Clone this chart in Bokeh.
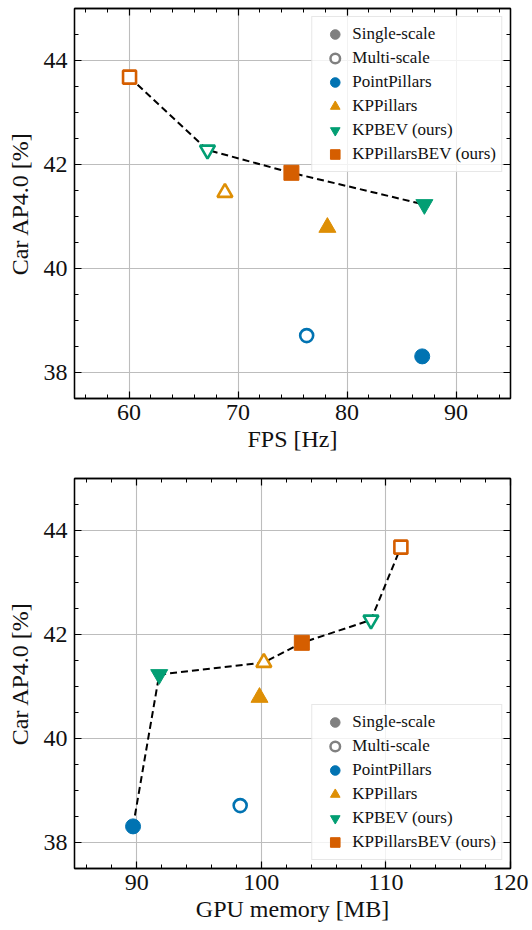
from bokeh.plotting import figure
from bokeh.models import (Range1d, LinearAxis, SingleIntervalTicker, CustomJSTickFormatter,
                          Legend, LegendItem)
from bokeh.layouts import column
from bokeh.embed import file_html
from bokeh.resources import INLINE

# ---------------- data ----------------
methods = ["PointPillars", "KPPillars", "KPBEV (ours)", "KPPillarsBEV (ours)"]
colors = ["#0173B2", "#DE8F05", "#029E73", "#D55E00"]
markers = ["circle", "triangle", "inverted_triangle", "square"]

ap_single = [38.31, 40.79, 41.23, 41.84]
ap_multi = [38.71, 41.46, 42.28, 43.68]
fps_single = [86.9, 78.2, 87.1, 74.9]
fps_multi = [76.3, 68.8, 67.2, 60.05]
mem_single = [89.7, 99.85, 91.8, 103.25]
mem_multi = [98.3, 100.2, 108.8, 111.2]

# Pareto fronts: (method index, scale)
front_fps = [(3, "multi"), (2, "multi"), (3, "single"), (2, "single")]
front_mem = [(0, "single"), (2, "single"), (1, "multi"), (3, "single"), (2, "multi"), (3, "multi")]

FONT = "Liberation Serif"
SIZES = {"circle": (15, 13), "triangle": (17, 15), "inverted_triangle": (17, 15), "square": (15, 13)}


def style_axis(ax, ticker, show_labels=True, is_x=True):
    ax.ticker = ticker
    ax.major_tick_in = 7
    ax.major_tick_out = 0
    ax.minor_tick_in = 4
    ax.minor_tick_out = 0
    ax.axis_line_color = "black"
    ax.axis_line_width = 1.3
    ax.major_tick_line_color = "black"
    ax.minor_tick_line_color = "black"
    ax.major_tick_line_width = 1.2
    ax.minor_tick_line_width = 1.0
    if show_labels:
        ax.major_label_text_font = FONT
        ax.major_label_text_font_size = "24px"
        ax.major_label_text_color = "#111111"
        ax.major_label_standoff = 6 if is_x else 7
        ax.axis_label_text_font = FONT
        ax.axis_label_text_font_size = "24px"
        ax.axis_label_text_font_style = "normal"
        ax.axis_label_text_color = "#111111"
        ax.axis_label_standoff = 3 if is_x else 8
    else:
        ax.formatter = CustomJSTickFormatter(code="return ''")
        ax.major_label_text_font_size = "0px"
        ax.major_label_standoff = 0


def make_fig(xs_single, xs_multi, xlo, xhi, xlabel, front, loc, height, top, bottom):
    p = figure(width=532, height=height, output_backend="svg", toolbar_location=None,
               x_range=Range1d(xlo, xhi), y_range=Range1d(37.5, 45),
               min_border_left=74, min_border_right=22, min_border_top=top,
               min_border_bottom=bottom)
    p.outline_line_color = "black"
    p.outline_line_width = 1.3
    xt = SingleIntervalTicker(interval=10, num_minor_ticks=5)
    yt = SingleIntervalTicker(interval=2, num_minor_ticks=4)
    style_axis(p.xaxis[0], xt, True, True)
    style_axis(p.yaxis[0], yt, True, False)
    p.xaxis[0].axis_label = xlabel
    p.yaxis[0].axis_label = "Car AP4.0 [%]"
    ax_top = LinearAxis()
    style_axis(ax_top, SingleIntervalTicker(interval=10, num_minor_ticks=5), False)
    p.add_layout(ax_top, "above")
    ax_right = LinearAxis()
    style_axis(ax_right, SingleIntervalTicker(interval=2, num_minor_ticks=4), False)
    p.add_layout(ax_right, "right")
    p.xgrid.grid_line_color = "#bdbdbd"
    p.ygrid.grid_line_color = "#bdbdbd"
    p.xgrid.grid_line_width = 1.1
    p.ygrid.grid_line_width = 1.1
    p.xgrid.minor_grid_line_color = None
    p.ygrid.minor_grid_line_color = None

    # Pareto front
    fx = [xs_single[i] if s == "single" else xs_multi[i] for i, s in front]
    fy = [ap_single[i] if s == "single" else ap_multi[i] for i, s in front]
    p.line(fx, fy, line_color="black", line_width=2, line_dash="7 4")

    items = []
    r_s = p.scatter([float("nan")], [float("nan")], marker="circle", size=15,
                    fill_color="#808080", line_color="#808080")
    r_m = p.scatter([float("nan")], [float("nan")], marker="circle", size=13,
                    fill_color="white", line_color="#808080", line_width=2.5)
    items.append(LegendItem(label="Single-scale", renderers=[r_s]))
    items.append(LegendItem(label="Multi-scale", renderers=[r_m]))
    for i, name in enumerate(methods):
        mk = markers[i]
        s_f, s_o = SIZES[mk]
        p.scatter([xs_multi[i]], [ap_multi[i]], marker=mk, size=s_o,
                  fill_color="white", line_color=colors[i], line_width=2.6)
        r = p.scatter([xs_single[i]], [ap_single[i]], marker=mk, size=s_f,
                      fill_color=colors[i], line_color=colors[i], line_width=1)
        items.append(LegendItem(label=name, renderers=[r]))

    leg = Legend(items=items, location=loc)
    leg.label_text_font = FONT
    leg.label_text_font_size = "17px"
    leg.label_text_color = "#111111"
    leg.glyph_width = 35
    leg.glyph_height = 24
    leg.label_height = 24
    leg.label_standoff = 0
    leg.spacing = 0
    leg.padding = 5
    leg.margin = 8
    leg.border_line_color = "#d0d0d0"
    leg.border_line_width = 1.3
    leg.background_fill_color = "white"
    leg.background_fill_alpha = 0.8
    p.add_layout(leg, "center")
    return p


p1 = make_fig(fps_single, fps_multi, 55, 95, "FPS [Hz]", front_fps, "top_right", 470, 8, 72)
p2 = make_fig(mem_single, mem_multi, 85, 120, "GPU memory [MB]", front_mem, "bottom_right", 460, 8, 62)

layout = column(p1, p2)
open("out.html", "w").write(file_html(layout, INLINE))
